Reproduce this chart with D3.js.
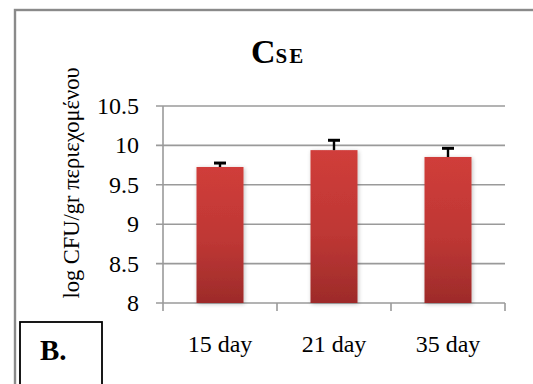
<!DOCTYPE html>
<html>
<head>
<meta charset="utf-8">
<script src="https://cdn.jsdelivr.net/npm/d3@7"></script>
<style>
  body { margin: 0; background: #fff; }
  svg { display: block; }
  text { font-family: "Liberation Serif", "Times New Roman", serif; }
</style>
</head>
<body>
<svg id="chart" width="533" height="384"></svg>
<script>
// chart data
var days = ["15 day", "21 day", "35 day"]
var values = [9.726, 9.94, 9.853]
var errors = [0.05, 0.125, 0.11]
var yTicks = [8, 8.5, 9, 9.5, 10, 10.5]

var svg = d3.select("#chart")

// outer frame
svg.append("rect")
    .attr("x", 15).attr("y", 10)
    .attr("width", 540).attr("height", 400)
    .attr("fill", "none")
    .attr("stroke", "#8a8a8a")
    .attr("stroke-width", 2.4)

var defs = svg.append("defs")
var grad = defs.append("linearGradient")
    .attr("id", "barGrad")
    .attr("x1", 0).attr("y1", 0).attr("x2", 0).attr("y2", 1)
grad.append("stop").attr("offset", "0%").attr("stop-color", "#d03d3a")
grad.append("stop").attr("offset", "55%").attr("stop-color", "#be3734")
grad.append("stop").attr("offset", "100%").attr("stop-color", "#9d2b2a")

var shadow = defs.append("filter").attr("id", "shadow")
    .attr("x", "-20%").attr("y", "-20%").attr("width", "140%").attr("height", "140%")
shadow.append("feGaussianBlur").attr("in", "SourceAlpha").attr("stdDeviation", 2)
shadow.append("feOffset").attr("dx", 1).attr("dy", 1).attr("result", "b")
shadow.append("feComponentTransfer").append("feFuncA").attr("type", "linear").attr("slope", 0.25)
var merge = shadow.append("feMerge")
merge.append("feMergeNode")
merge.append("feMergeNode").attr("in", "SourceGraphic")

var plotL = 163, plotR = 505, plotT = 106, plotB = 303

var x = d3.scaleBand().domain(days).range([plotL, plotR]).paddingInner(0).paddingOuter(0)
var y = d3.scaleLinear().domain([8, 10.5]).range([plotB, plotT])

// gridlines
svg.append("g").selectAll("line").data(yTicks).enter().append("line")
    .attr("x1", plotL - 7).attr("x2", plotR)
    .attr("y1", d => y(d)).attr("y2", d => y(d))
    .attr("stroke", "#9a9a9a")
    .attr("stroke-width", 1.6)

// y axis line
svg.append("line")
    .attr("x1", plotL).attr("x2", plotL)
    .attr("y1", plotT).attr("y2", plotB)
    .attr("stroke", "#9a9a9a").attr("stroke-width", 1.6)

// bottom category ticks
var bounds = days.map(d => x(d)).concat([plotR])
svg.append("g").selectAll("line").data(bounds).enter().append("line")
    .attr("x1", d => d).attr("x2", d => d)
    .attr("y1", plotB).attr("y2", plotB + 8)
    .attr("stroke", "#9a9a9a").attr("stroke-width", 1.6)

// y tick labels
svg.append("g").selectAll("text").data(yTicks).enter().append("text")
    .attr("x", 139)
    .attr("y", d => y(d) + 8)
    .attr("text-anchor", "end")
    .style("font-size", "24px")
    .attr("fill", "#000")
    .text(d => d)

// bars
var barW = 47
svg.append("g").selectAll("rect").data(values).enter().append("rect")
    .attr("x", (d, i) => x(days[i]) + x.bandwidth() / 2 - barW / 2)
    .attr("y", d => y(d))
    .attr("width", barW)
    .attr("height", d => plotB - y(d))
    .attr("fill", "url(#barGrad)")
    .attr("filter", "url(#shadow)")

// error bars (upper only)
var eb = svg.append("g").attr("stroke", "#000").attr("stroke-width", 2.4)
values.forEach(function(v, i){
    var cx = x(days[i]) + x.bandwidth() / 2
    eb.append("line")
        .attr("x1", cx).attr("x2", cx)
        .attr("y1", y(v)).attr("y2", y(v + errors[i]))
    eb.append("line")
        .attr("x1", cx - 6).attr("x2", cx + 6)
        .attr("y1", y(v + errors[i])).attr("y2", y(v + errors[i]))
        .attr("stroke-width", 3)
})

// x labels
svg.append("g").selectAll("text").data(days).enter().append("text")
    .attr("x", d => x(d) + x.bandwidth() / 2)
    .attr("y", 352)
    .attr("text-anchor", "middle")
    .style("font-size", "24px")
    .attr("fill", "#000")
    .text(d => d)

// title
var title = svg.append("text")
    .attr("x", 251).attr("y", 63)
    .style("font-weight", "bold")
    .attr("fill", "#000")
title.append("tspan").style("font-size", "34px").text("C")
title.append("tspan").style("font-size", "21px").attr("letter-spacing", "2px").text("SE")

// y axis title
svg.append("text")
    .attr("transform", "translate(79,183) rotate(-90)")
    .attr("text-anchor", "middle")
    .style("font-size", "22.5px")
    .attr("fill", "#000")
    .text("log CFU/gr περιεχομένου")

// "B." box
svg.append("rect")
    .attr("x", 20).attr("y", 322)
    .attr("width", 82).attr("height", 80)
    .attr("fill", "#fff")
    .attr("stroke", "#000")
    .attr("stroke-width", 1.8)
svg.append("text")
    .attr("x", 40).attr("y", 360)
    .style("font-weight", "bold")
    .style("font-size", "29px")
    .attr("fill", "#000")
    .text("B.")
</script>
</body>
</html>
